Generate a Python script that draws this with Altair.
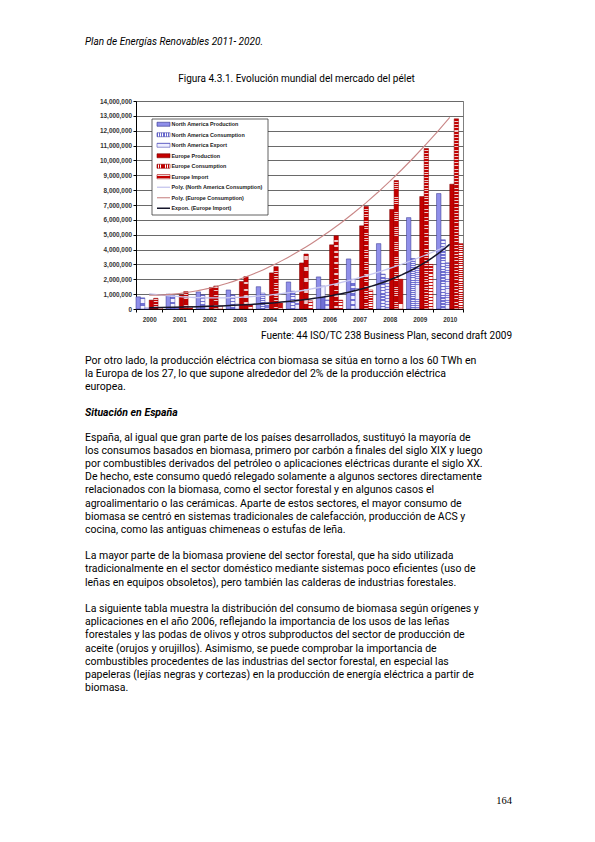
import altair as alt
import pandas as pd

# ---------------- data ----------------
years = [2000, 2001, 2002, 2003, 2004, 2005, 2006, 2007, 2008, 2009, 2010]
series_names = [
    "North America Production",
    "North America Consumption",
    "North America Export",
    "Europe Production",
    "Europe Consumption",
    "Europe Import",
]
na_production = [820000, 1000000, 1150000, 1280000, 1500000, 1820000, 2160000, 3370000, 4400000, 6150000, 7770000]
na_consumption = [750000, 900000, 950000, 950000, 1070000, 1200000, 1550000, 2000000, 2350000, 3400000, 4660000]
na_export = [70000, 100000, 200000, 330000, 430000, 620000, 610000, 1370000, 2050000, 2750000, 3110000]
europe_production = [600000, 950000, 1450000, 1850000, 2430000, 3100000, 4320000, 5600000, 6700000, 7570000, 8400000]
europe_consumption = [720000, 1170000, 1550000, 2180000, 2850000, 3700000, 4930000, 6900000, 8650000, 10800000, 12800000]
europe_import = [100000, 150000, 200000, 300000, 400000, 550000, 600000, 1280000, 2000000, 3000000, 4400000]
trend_labels = [
    "Poly. (North America Consumption)",
    "Poly. (Europe Consumption)",
    "Expon. (Europe Import)",
]
legend_labels = series_names + trend_labels
y_ticks = list(range(0, 14000001, 1000000))

header_text = "Plan de Energías Renovables 2011- 2020."
caption_text = "Figura 4.3.1. Evolución mundial del mercado del pélet"
source_text = "Fuente: 44 ISO/TC 238 Business Plan, second draft 2009"
para1 = [
    "Por otro lado, la producción eléctrica con biomasa se sitúa en torno a los 60 TWh en",
    "la Europa de los 27, lo que supone alrededor del 2% de la producción eléctrica",
    "europea.",
]
heading_text = "Situación en España"
para2 = [
    "España, al igual que gran parte de los países desarrollados, sustituyó la mayoría de",
    "los consumos basados en biomasa, primero por carbón a finales del siglo XIX y luego",
    "por combustibles derivados del petróleo o aplicaciones eléctricas durante el siglo XX.",
    "De hecho, este consumo quedó relegado solamente a algunos sectores directamente",
    "relacionados con la biomasa, como el sector forestal y en algunos casos el",
    "agroalimentario o las cerámicas. Aparte de estos sectores, el mayor consumo de",
    "biomasa se centró en sistemas tradicionales de calefacción, producción de ACS y",
    "cocina, como las antiguas chimeneas o estufas de leña.",
]
para3 = [
    "La mayor parte de la biomasa proviene del sector forestal, que ha sido utilizada",
    "tradicionalmente en el sector doméstico mediante sistemas poco eficientes (uso de",
    "leñas en equipos obsoletos), pero también las calderas de industrias forestales.",
]
para4 = [
    "La siguiente tabla muestra la distribución del consumo de biomasa según orígenes y",
    "aplicaciones en el año 2006, reflejando la importancia de los usos de las leñas",
    "forestales y las podas de olivos y otros subproductos  del sector de producción de",
    "aceite (orujos y orujillos). Asimismo, se puede comprobar la importancia de",
    "combustibles procedentes de las industrias del sector forestal, en especial las",
    "papeleras (lejías negras y cortezas) en la producción de energía eléctrica a partir de",
    "biomasa.",
]
page_number = "164"

# ---------------- tables ----------------
series_values = [na_production, na_consumption, na_export,
                 europe_production, europe_consumption, europe_import]
rows = []
for name, vals in zip(series_names, series_values):
    for yr, v in zip(years, vals):
        rows.append({"year": yr, "series": name, "value": v})
df = pd.DataFrame(rows)
legend_df = pd.DataFrame({"label": legend_labels})
one = pd.DataFrame({"k": [0]})

# ---------------- layout constants ----------------
W, H = 327, 208
OX, OY = 136, 101          # page position of plot origin
PAD_L, PAD_T = OX - 8, OY - 8
PAD_R = 579 - PAD_L - W
PAD_B = 826 - PAD_T - H
PI, PO = 0.12, 0.0         # band padding of year scale
D0 = years[0] - PO - (1 - PI) / 2
D1 = D0 + len(years) - PI + 2 * PO

BODY_FONT = "Roboto"
AX_FONT = "Liberation Sans"


def stripes(c1, c2, n, frac1=0.5, vertical=False):
    stops = []
    for k in range(n):
        a = round(k / n, 5)
        b = round((k + frac1) / n, 5)
        c = round((k + 1) / n, 5)
        stops += [
            alt.GradientStop(color=c1, offset=a),
            alt.GradientStop(color=c1, offset=b),
            alt.GradientStop(color=c2, offset=b),
            alt.GradientStop(color=c2, offset=c),
        ]
    if vertical:
        return alt.LinearGradient(gradient="linear", stops=stops, x1=0, y1=0, x2=1, y2=0)
    return alt.LinearGradient(gradient="linear", stops=stops, x1=0, y1=0, x2=0, y2=1)


bar_styles = {
    "North America Production": dict(fill="#8F8FEA", stroke="#2E2E8A"),
    "North America Consumption": dict(fill=stripes("#7070D4", "#F4F4FF", 24, 0.5), stroke="#4646A8"),
    "North America Export": dict(fill=stripes("#8080DC", "#EEEEFF", 20, 0.35), stroke="#4C4CB4"),
    "Europe Production": dict(fill="#C40000", stroke="#780000"),
    "Europe Consumption": dict(fill=stripes("#C40000", "#F2C8C8", 60, 0.68), stroke="#8C0000"),
    "Europe Import": dict(fill=stripes("#C81010", "#FFF4F4", 30, 0.45), stroke="#A00000"),
}
legend_fills = {
    "North America Production": "#8F8FEA",
    "North America Consumption": stripes("#6A6AD2", "#FFFFFF", 6, 0.5, vertical=True),
    "North America Export": stripes("#7C7CDA", "#EEEEFF", 3, 0.35),
    "Europe Production": "#C40000",
    "Europe Consumption": stripes("#C40000", "#FFFFFF", 6, 0.6, vertical=True),
    "Europe Import": stripes("#C40000", "#FFFFFF", 3, 0.5),
}
trend_styles = {
    "Poly. (North America Consumption)": dict(color="#C6C6EE", strokeWidth=1.3),
    "Poly. (Europe Consumption)": dict(color="#C98686", strokeWidth=1.1),
    "Expon. (Europe Import)": dict(color="#15152A", strokeWidth=1.5),
}


def y_scale():
    return alt.Scale(domain=[0, 14000000], nice=False, zero=True)


def x_band():
    return alt.Scale(domain=years, paddingInner=PI, paddingOuter=PO)


def off_scale():
    return alt.Scale(domain=series_names, paddingInner=0, paddingOuter=0)


def leg_scale():
    return alt.Scale(type="band", domain=legend_labels, range=[18, 112.5],
                     paddingInner=0.62, paddingOuter=0.31)


layers = []

# ---------------- bars ----------------
for i, name in enumerate(series_names):
    st = bar_styles[name]
    if i == 0:
        x_enc = alt.X("year:O", scale=x_band(), axis=alt.Axis(
            title=None, labelAngle=0, labelFont=AX_FONT, labelFontSize=6.3,
            labelFontWeight="bold", labelColor="#333333", labelPadding=4,
            tickSize=3, tickBand="extent", tickColor="#000000",
            domainColor="#000000", grid=False))
        y_enc = alt.Y("value:Q", scale=y_scale(), axis=alt.Axis(
            title=None, values=y_ticks, format=",d", labelFont=AX_FONT,
            labelFontSize=6.4, labelFontWeight="bold", labelColor="#333333",
            labelPadding=1.5, tickSize=3, tickColor="#000000",
            domainColor="#000000", grid=True, gridColor="#6A6A6A", gridWidth=1))
    else:
        x_enc = alt.X("year:O", scale=x_band(), axis=None)
        y_enc = alt.Y("value:Q", scale=y_scale(), axis=None)
    layers.append(
        alt.Chart(df)
        .transform_filter(alt.datum.series == name)
        .mark_bar(fill=st["fill"], stroke=st["stroke"], strokeWidth=0.5)
        .encode(
            x=x_enc,
            xOffset=alt.XOffset("series:N", scale=off_scale()),
            y=y_enc,
        )
    )

# ---------------- trend lines ----------------
trend_defs = [
    ("Poly. (North America Consumption)", "North America Consumption", "poly"),
    ("Poly. (Europe Consumption)", "Europe Consumption", "poly"),
    ("Expon. (Europe Import)", "Europe Import", "exp"),
]
for label, src, method in trend_defs:
    st = trend_styles[label]
    base = alt.Chart(df).transform_filter(alt.datum.series == src)
    if method == "poly":
        base = base.transform_regression("year", "value", method="poly", order=2)
    else:
        base = base.transform_regression("year", "value", method="exp")
    layers.append(
        base.mark_line(color=st["color"], strokeWidth=st["strokeWidth"]).encode(
            x=alt.X("year:Q", scale=alt.Scale(domain=[D0, D1], nice=False, zero=False), axis=None),
            y=alt.Y("value:Q", scale=y_scale(), axis=None),
        )
    )

# ---------------- legend (inside plot) ----------------
layers.append(
    alt.Chart(one).mark_rect(fill="#FFFFFF", stroke="#3A3A3A", strokeWidth=0.8).encode(
        x=alt.value(152 - OX), x2=alt.value(268 - OX),
        y=alt.value(119 - OY), y2=alt.value(215 - OY),
    )
)
for name in series_names:
    layers.append(
        alt.Chart(legend_df)
        .transform_filter(alt.datum.label == name)
        .mark_rect(fill=legend_fills[name], stroke=bar_styles[name]["stroke"], strokeWidth=0.6)
        .encode(x=alt.value(157 - OX), x2=alt.value(170 - OX),
                y=alt.Y("label:N", scale=leg_scale(), axis=None))
    )
for name in trend_labels:
    st = trend_styles[name]
    layers.append(
        alt.Chart(legend_df)
        .transform_filter(alt.datum.label == name)
        .mark_rule(color=st["color"], strokeWidth=st["strokeWidth"])
        .encode(x=alt.value(157 - OX), x2=alt.value(170 - OX),
                y=alt.Y("label:N", scale=leg_scale(), axis=None, bandPosition=0.5))
    )
layers.append(
    alt.Chart(legend_df)
    .mark_text(align="left", baseline="middle", font=AX_FONT, fontSize=5.4,
               fontWeight="bold", color="#222222")
    .encode(x=alt.value(171.5 - OX),
            y=alt.Y("label:N", scale=leg_scale(), axis=None, bandPosition=0.5),
            text="label:N")
)

# ---------------- page text ----------------
LH = 13.2


def txt(content, x, y, align="left", size=10.5, style="normal", weight="normal",
        font=BODY_FONT, color="#000000"):
    return alt.Chart(one).mark_text(
        text=content, align=align, baseline="alphabetic", font=font,
        fontSize=size, fontStyle=style, fontWeight=weight, color=color,
        lineHeight=LH,
    ).encode(x=alt.value(x - OX), y=alt.value(y - OY))


layers += [
    txt(header_text, 85, 45, size=10, style="italic"),
    txt(caption_text, 296.5, 82, align="center", size=10),
    txt(source_text, 512, 339, align="right", size=10),
    txt(para1, 85, 363.5),
    txt(heading_text, 85, 415.5, style="italic", weight="bold"),
    txt(para2, 85, 440.5),
    txt(para3, 85, 559.3),
    txt(para4, 85, 612.1),
    txt(page_number, 512, 804, align="right", size=10.5, font="Liberation Serif"),
]

chart = (
    alt.layer(*layers)
    .resolve_scale(x="independent", y="independent")
    .properties(
        width=W, height=H,
        padding={"left": PAD_L, "top": PAD_T, "right": PAD_R, "bottom": PAD_B},
        autosize=alt.AutoSizeParams(type="none"),
        background="#FFFFFF",
    )
    .configure_view(stroke="#808080", strokeWidth=1)
)

chart.save("out.html", embed_options={"renderer": "svg", "actions": False})
